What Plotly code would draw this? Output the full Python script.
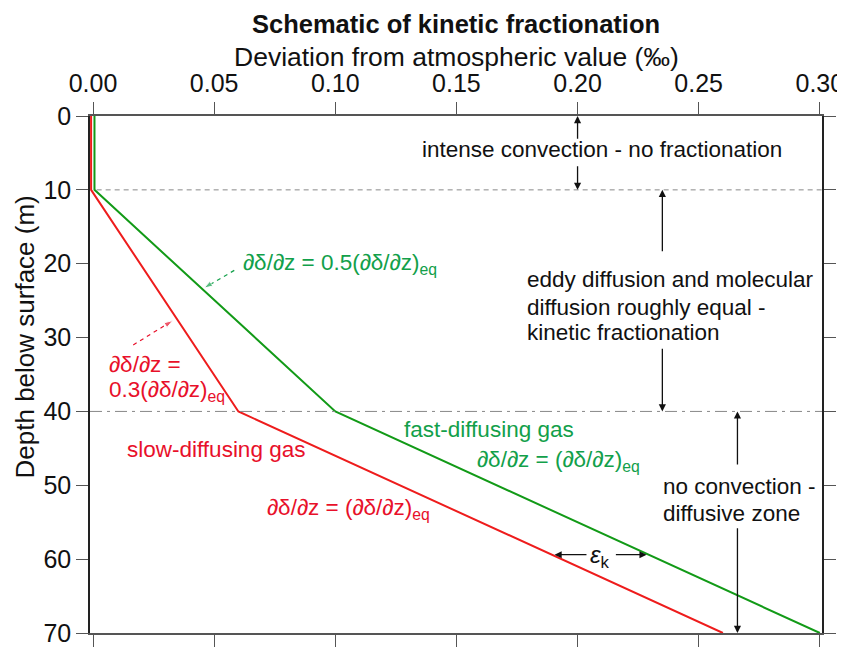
import plotly.graph_objects as go

# ---- data ----
depth = [0, 10, 40, 70]                       # m
slow_gas = [-0.0008, -0.0008, 0.06, 0.26]     # per mil (red)
fast_gas = [0.0006, 0.0006, 0.10, 0.30]       # per mil (green)
zone_depths = [10, 40]
x_ticks = [0.00, 0.05, 0.10, 0.15, 0.20, 0.25, 0.30]
y_ticks = [0, 10, 20, 30, 40, 50, 60, 70]

RED = "#ee1c1c"
RED_T = "#e8102a"
GREEN = "#129a17"
GREEN_T = "#12a04a"
FONT = "Liberation Sans, Arial, Helvetica, sans-serif"
FS = 22.5      # annotation text
TFS = 26       # axis titles
TKS = 25       # tick labels

fig = go.Figure()

fig.add_trace(go.Scatter(x=fast_gas, y=depth, mode="lines",
                         line=dict(color=GREEN, width=2), showlegend=False))
fig.add_trace(go.Scatter(x=slow_gas, y=depth, mode="lines",
                         line=dict(color=RED, width=2), showlegend=False))

# dashed pointer arrows (tail -> head)
fig.add_trace(go.Scatter(x=[0.0583, 0.0458], y=[20.9, 23.3], mode="lines+markers",
                         line=dict(color=GREEN_T, width=1.2, dash="4px,4px"),
                         marker=dict(symbol="arrow", size=[0, 9], angleref="previous",
                                     color=GREEN_T),
                         showlegend=False))
fig.add_trace(go.Scatter(x=[0.0166, 0.0329], y=[31.0, 27.7], mode="lines+markers",
                         line=dict(color=RED_T, width=1.2, dash="4px,4px"),
                         marker=dict(symbol="arrow", size=[0, 9], angleref="previous",
                                     color=RED_T),
                         showlegend=False))

# zone boundaries
fig.add_shape(type="line", xref="x", yref="y", x0=0.0015, x1=0.3009,
              y0=zone_depths[0], y1=zone_depths[0],
              line=dict(color="#888888", width=1, dash="5px,4px"))
fig.add_shape(type="line", xref="paper", yref="y", x0=0, x1=1,
              y0=zone_depths[1], y1=zone_depths[1],
              line=dict(color="#888888", width=1, dash="12px,5px,3px,5px"))

annotations = []

def arrow(x, y, ax, ay):
    annotations.append(dict(x=x, y=y, ax=ax, ay=ay, xref="x", yref="y",
                            axref="x", ayref="y", text="", showarrow=True,
                            arrowhead=2, arrowsize=1.1, arrowwidth=1.3,
                            arrowcolor="#111111", standoff=0, startstandoff=0))

# vertical zone arrows
arrow(0.20, 0, 0.20, 3.3)
arrow(0.20, 10, 0.20, 6.6)
arrow(0.235, 10, 0.235, 18.5)
arrow(0.235, 40, 0.235, 31.3)
arrow(0.266, 40, 0.266, 47.4)
arrow(0.266, 70, 0.266, 55.6)
# epsilon_k arrows
arrow(0.1905, 59.4, 0.2043, 59.4)
arrow(0.2285, 59.4, 0.2152, 59.4)

def text(x, y, s, color="#111111", xanchor="left", size=FS):
    annotations.append(dict(x=x, y=y, xref="x", yref="y", text=s, showarrow=False,
                            xanchor=xanchor, yanchor="middle", align="left",
                            font=dict(color=color, size=size, family=FONT)))

text(0.2100, 4.6, "intense convection - no fractionation", xanchor="center")
text(0.1781, 22.2, "eddy diffusion and molecular")
text(0.1781, 25.9, "diffusion roughly equal -")
text(0.1781, 29.3, "kinetic fractionation")
text(0.2344, 50.1, "no convection -")
text(0.2344, 53.8, "diffusive zone")
text(0.1635, 42.4, "fast-diffusing gas", color=GREEN_T, xanchor="center")
text(0.1577, 46.7, "∂δ/∂z = (∂δ/∂z)<sub>eq</sub>", color=GREEN_T)
text(0.0708, 53.2, "∂δ/∂z = (∂δ/∂z)<sub>eq</sub>", color=RED_T)
text(0.0133, 45.1, "slow-diffusing gas", color=RED_T)
text(0.0612, 20.1, "∂δ/∂z = 0.5(∂δ/∂z)<sub>eq</sub>", color=GREEN_T)
text(0.0058, 33.7, "∂δ/∂z =", color=RED_T)
text(0.0058, 37.3, "0.3(∂δ/∂z)<sub>eq</sub>", color=RED_T)
text(0.2092, 59.6, "<i>ε</i><sub>k</sub>", xanchor="center", size=24)

# titles (paper-anchored)
annotations.append(dict(x=0.5, y=1, xref="paper", yref="paper", yanchor="middle",
                        yshift=92, text="<b>Schematic of kinetic fractionation</b>",
                        showarrow=False, font=dict(size=25.5, family=FONT, color="#111111")))
annotations.append(dict(x=0.5, y=1, xref="paper", yref="paper", yanchor="middle",
                        yshift=59, text="Deviation from atmospheric value (‰)",
                        showarrow=False, font=dict(size=26.5, family=FONT, color="#111111")))
annotations.append(dict(x=0, y=(639.3 - 340) / 523.6, xref="paper", yref="paper",
                        xanchor="center", yanchor="middle", xshift=-65, textangle=-90,
                        text="Depth below surface (m)",
                        showarrow=False, font=dict(size=TFS, family=FONT, color="#111111")))

fig.update_layout(
    annotations=annotations,
    width=837, height=640,
    margin=dict(l=82, r=23, t=108, b=1, pad=0),
    paper_bgcolor="white", plot_bgcolor="white",
    showlegend=False,
    font=dict(family=FONT, size=FS, color="#111111"),
)

fig.update_xaxes(range=[-0.00125, 0.3009], side="top", tickvals=x_ticks,
                 tickformat=".2f", ticks="outside", ticklen=12, tickwidth=1.3,
                 tickcolor="#555555", showline=True, linecolor="#555555", linewidth=1.5,
                 mirror="ticks", showgrid=False, zeroline=False,
                 ticklabeloverflow="allow", ticklabelstandoff=0,
                 tickfont=dict(size=TKS, family=FONT, color="#111111"))
fig.update_yaxes(range=[70, 0], tickvals=y_ticks, ticks="outside", ticklen=12,
                 tickwidth=1.3, tickcolor="#555555", showline=True, linecolor="#222222",
                 linewidth=1.5, mirror="ticks", showgrid=False, zeroline=False,
                 ticklabeloverflow="allow",
                 tickfont=dict(size=TKS, family=FONT, color="#111111"))

fig.write_html("out.html")
